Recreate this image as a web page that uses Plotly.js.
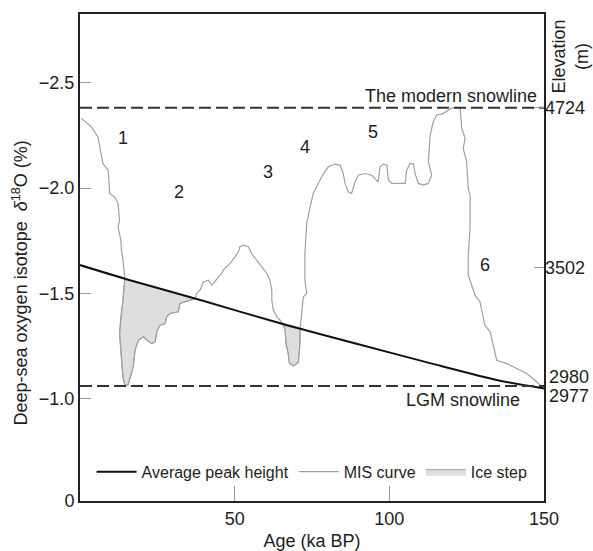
<!DOCTYPE html>
<html>
<head>
<meta charset="utf-8">
<script src="https://cdn.plot.ly/plotly-3.0.1.min.js"></script>
<style>html,body{margin:0;padding:0;background:#fff;}#chart{width:593px;height:551px;}</style>
</head>
<body>
<div id="chart"></div>
<script>
// ---- Data (age in ka BP, deep-sea δ18O in ‰) ----
const misKa = [0.4,3.7,5.8,6.9,7.4,9.1,9.6,11.2,12.3,12.8,12.3,13.2,13.4,13.9,14.5,
  13.9,13.2,12.8,13.4,13.9,14.5,15.5,
  17.2,17.8,18.9,20.5,21.6,23.2,24.3,24.8,25.9,27.5,28.0,29.1,31.8,32.3,33.9,35.6,37.2,
  37.7,38.8,39.9,41.5,42.6,43.6,44.7,45.8,46.3,47.4,48.5,50.1,51.2,51.7,52.8,54.4,55.5,57.1,58.7,60.4,61.4,62.0,62.0,62.5,63.6,64.7,65.7,
  66.3,66.6,67.3,67.7,69.0,70.6,71.1,71.1,
  71.7,72.2,73.3,72.7,72.7,73.3,74.4,75.4,76.5,78.7,80.3,82.4,84.1,85.1,85.7,86.7,87.8,88.9,90.0,92.1,94.3,96.4,97.0,98.1,99.2,99.7,100.8,102.9,105.1,105.6,106.7,107.8,108.3,109.4,111.0,112.6,113.7,112.6,113.2,114.2,115.3,117.5,119.1,120.2,122.9,123.4,124.5,123.9,125.0,125.5,126.1,126.1,125.5,125.5,126.6,127.7,129.3,129.9,130.9,132.6,133.6,134.7,138.0,141.2,144.4,147.1,148.7,149.8];
const misD18O = [-2.331,-2.291,-2.243,-2.164,-2.117,-2.085,-1.974,-1.958,-1.927,-1.847,-1.816,-1.752,-1.705,-1.657,-1.570,
  -1.467,-1.388,-1.309,-1.182,-1.103,-1.063,-1.063,
  -1.150,-1.230,-1.277,-1.293,-1.277,-1.261,-1.269,-1.317,-1.348,-1.356,-1.388,-1.404,-1.412,-1.452,-1.459,-1.467,-1.475,
  -1.499,-1.515,-1.554,-1.562,-1.539,-1.554,-1.578,-1.594,-1.610,-1.625,-1.642,-1.673,-1.697,-1.721,-1.729,-1.721,-1.689,-1.657,-1.625,-1.594,-1.562,-1.515,-1.467,-1.420,-1.388,-1.372,-1.348,
  -1.325,-1.261,-1.214,-1.168,-1.154,-1.173,-1.261,-1.325,
  -1.435,-1.483,-1.499,-1.562,-1.689,-1.832,-1.911,-1.974,-2.006,-2.069,-2.101,-2.114,-2.109,-2.069,-2.022,-1.982,-1.974,-2.029,-2.061,-2.069,-2.061,-2.029,-2.101,-2.114,-2.109,-2.038,-2.022,-2.022,-2.022,-2.085,-2.117,-2.114,-2.069,-2.022,-2.014,-2.022,-2.061,-2.125,-2.251,-2.315,-2.347,-2.355,-2.370,-2.381,-2.381,-2.283,-2.236,-2.188,-2.125,-1.998,-1.966,-1.808,-1.681,-1.586,-1.539,-1.491,-1.459,-1.412,-1.348,-1.317,-1.253,-1.182,-1.166,-1.143,-1.119,-1.087,-1.063,-1.048];

const iceStep1Ka = [14.5,13.9,13.2,12.8,13.4,13.9,14.5,15.5,17.2,17.8,18.9,20.5,21.6,23.2,24.3,24.8,25.9,27.5,28.0,29.1,31.8,32.3,33.9,35.6,37.2,14.5];
const iceStep1D18O = [-1.570,-1.467,-1.388,-1.309,-1.182,-1.103,-1.063,-1.063,-1.150,-1.230,-1.277,-1.293,-1.277,-1.261,-1.269,-1.317,-1.348,-1.356,-1.388,-1.404,-1.412,-1.452,-1.459,-1.467,-1.475,-1.570];
const iceStep2Ka = [65.7,66.3,66.6,67.3,67.7,69.0,70.6,71.1,71.1,65.7];
const iceStep2D18O = [-1.348,-1.325,-1.261,-1.214,-1.168,-1.154,-1.173,-1.261,-1.330,-1.348];

const avgKa = [0,15,40,65,90,115,135,150];
const avgD18O = [-1.634,-1.567,-1.463,-1.356,-1.258,-1.161,-1.087,-1.048];

const snowlineKa = [0,150];
const modernSnowline = -2.381;
const lgmSnowline = -1.060;

const yTickVals = [-2.5,-2.0,-1.5,-1.0,-0.513];
const yTickText = ['\u22122.5','\u22122.0','\u22121.5','\u22121.0','0'];
const xTickVals = [50,100,150];
const xTickText = ['50','100','150'];

const elevTickVals = [-2.381,-1.621];
const elevTickText = ['4724','3502'];
const elevExtraVals = [-1.100,-1.011];
const elevExtraText = ['2980','2977'];

const misLabels = ['1','2','3','4','5','6'];
const misLabelKa = [14.0,32.1,60.9,72.7,94.8,130.9];
const misLabelD18O = [-2.236,-1.982,-2.077,-2.196,-2.267,-1.634];

const FONT = 'Liberation Sans, Arial, sans-serif';
const TXT = '#1e1e1e';
const MISC = '#a0a0a0';

const traces = [
  {x: iceStep1Ka, y: iceStep1D18O, type:'scatter', mode:'lines', fill:'toself', fillcolor:'#dedede',
   line:{color:MISC, width:1}, name:'Ice step', legendgroup:'ice', legendrank:3, hoverinfo:'skip'},
  {x: iceStep2Ka, y: iceStep2D18O, type:'scatter', mode:'lines', fill:'toself', fillcolor:'#dedede',
   line:{color:MISC, width:1}, name:'Ice step', legendgroup:'ice', showlegend:false, hoverinfo:'skip'},
  {x: misKa, y: misD18O, type:'scatter', mode:'lines', line:{color:MISC, width:1.2},
   name:'MIS curve', legendrank:2},
  {x: avgKa, y: avgD18O, type:'scatter', mode:'lines', line:{color:'#111', width:2, shape:'spline', smoothing:0.6},
   name:'Average peak height', legendrank:1},
  {x: snowlineKa, y: [modernSnowline, modernSnowline], type:'scatter', mode:'lines',
   line:{color:'#333', width:2, dash:'12px,5px'}, showlegend:false, yaxis:'y2'},
  {x: snowlineKa, y: [lgmSnowline, lgmSnowline], type:'scatter', mode:'lines',
   line:{color:'#333', width:2, dash:'12px,5px'}, showlegend:false}
];

const annotations = [];
for (let i = 0; i < misLabels.length; i++) {
  annotations.push({x: misLabelKa[i], y: misLabelD18O[i], xref:'x', yref:'y', text: misLabels[i],
    showarrow:false, font:{size:18, color:TXT, family:FONT}});
}
annotations.push({x:150, y:modernSnowline, xref:'x', yref:'y', text:'The modern snowline', showarrow:false,
  xanchor:'right', yanchor:'middle', xshift:-5, yshift:12, font:{size:18, color:TXT, family:FONT}});
annotations.push({x:150, y:lgmSnowline, xref:'x', yref:'y', text:'LGM snowline', showarrow:false,
  xanchor:'right', yanchor:'middle', xshift:-22, yshift:-14, font:{size:18, color:TXT, family:FONT}});
for (let i = 0; i < elevExtraText.length; i++) {
  annotations.push({x:1, y:elevExtraVals[i], xref:'paper', yref:'y', text: elevExtraText[i], showarrow:false,
    xanchor:'left', yanchor:'middle', xshift:3, font:{size:18, color:TXT, family:FONT}});
}
annotations.push({x:1.055, y:1, xref:'paper', yref:'paper', text:'Elevation<br>(m)', showarrow:false,
  textangle:-90, xanchor:'center', yanchor:'top', yshift:-4, font:{size:18, color:TXT, family:FONT}});
annotations.push({x:-0.129, y:0.447, xref:'paper', yref:'paper',
  text:'Deep-sea oxygen isotope  <i>\u03b4</i><sup>18</sup>O (%)', showarrow:false,
  textangle:-90, xanchor:'center', yanchor:'middle', font:{size:18, color:TXT, family:FONT}});

const layout = {
  width:593, height:551,
  margin:{l:80, r:49, t:14, b:50},
  paper_bgcolor:'#fff', plot_bgcolor:'#fff',
  font:{family:FONT, color:TXT, size:18},
  showlegend:true,
  legend:{orientation:'h', x:0.025, y:0.06, xanchor:'left', yanchor:'middle', itemwidth:40,
    bgcolor:'rgba(0,0,0,0)', font:{size:16, color:TXT, family:FONT}},
  xaxis:{range:[0,150], showgrid:false, zeroline:false, showline:true, linecolor:'#222', linewidth:2,
    mirror:true, ticks:'inside', ticklen:15, tickcolor:'#999', tickwidth:1,
    tickvals:xTickVals, ticktext:xTickText, tickfont:{size:18, color:TXT},
    title:{text:'Age (ka BP)', font:{size:18, color:TXT}, standoff:8}},
  yaxis:{range:[-0.513,-2.827], showgrid:false, zeroline:false, showline:true, linecolor:'#222', linewidth:2,
    mirror:true, ticks:'inside', ticklen:11, tickcolor:'#999', tickwidth:1,
    tickvals:yTickVals, ticktext:yTickText, tickfont:{size:18, color:TXT}},
  yaxis2:{range:[-0.513,-2.827], overlaying:'y', side:'right', showgrid:false, zeroline:false, showline:false,
    ticks:'inside', ticklen:10, tickcolor:'#999', tickwidth:1,
    tickvals:elevTickVals, ticktext:elevTickText, tickfont:{size:18, color:TXT}},
  annotations: annotations
};

Plotly.newPlot('chart', traces, layout, {displayModeBar:false, staticPlot:true});
</script>
</body>
</html>
